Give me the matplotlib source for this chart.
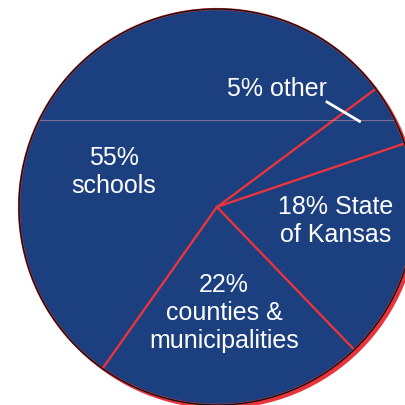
import numpy as np
import matplotlib.pyplot as plt
from matplotlib.patches import Circle

# revenue shares by recipient
labels = ['other', 'schools', 'counties &\nmunicipalities', 'State\nof Kansas']
shares = [5, 55, 22, 18]
label_text = ['5% other', '55%\nschools', '22%\ncounties &\nmunicipalities', '18% State\nof Kansas']

navy = '#1c3f80'
red = '#e8343c'

plt.rcParams['font.family'] = ['Liberation Sans', 'DejaVu Sans']

fig = plt.figure(figsize=(4.06, 4.05), dpi=100)
ax = fig.add_axes([0, 0, 1, 1])
ax.set_aspect('equal')
ax.axis('off')

cx, cy, r = 217, 198, 198
start = 18.7

# red rim peeking out behind the disc
ax.add_patch(Circle((cx + 3, cy - 3), r, color=red, zorder=0))

wedges, _ = ax.pie(shares, center=(cx, cy), radius=r, startangle=start,
                   counterclock=True, colors=[navy] * 4,
                   wedgeprops=dict(edgecolor=red, linewidth=1.6))
ax.set_xlim(0, 406)
ax.set_ylim(0, 405)
ax.add_patch(Circle((cx, cy), r, fill=False, edgecolor='#111111', lw=1.0, zorder=3))

# faint scan streak across the disc
streak, = ax.plot([cx - r, cx + r], [285, 285], color='#d9a0b0', lw=0.8, alpha=0.5, zorder=2)
streak.set_clip_path(Circle((cx, cy), r, transform=ax.transData))

txt = dict(color='white', fontsize=18, ha='center', va='center', linespacing=1.22, zorder=4)
ax.text(277, 316, label_text[0], **txt)
ax.text(114, 233, label_text[1], **txt)
ax.text(224, 92, label_text[2], **txt)
ax.text(336, 184, label_text[3], **txt)

# leader from the "other" label into its slice
theta = np.deg2rad(31)
ax.plot([327, cx + 0.84 * r * np.cos(theta)], [303, cy + 0.84 * r * np.sin(theta)],
        color='white', lw=2, zorder=4)

fig.savefig('out.png', dpi=100)
